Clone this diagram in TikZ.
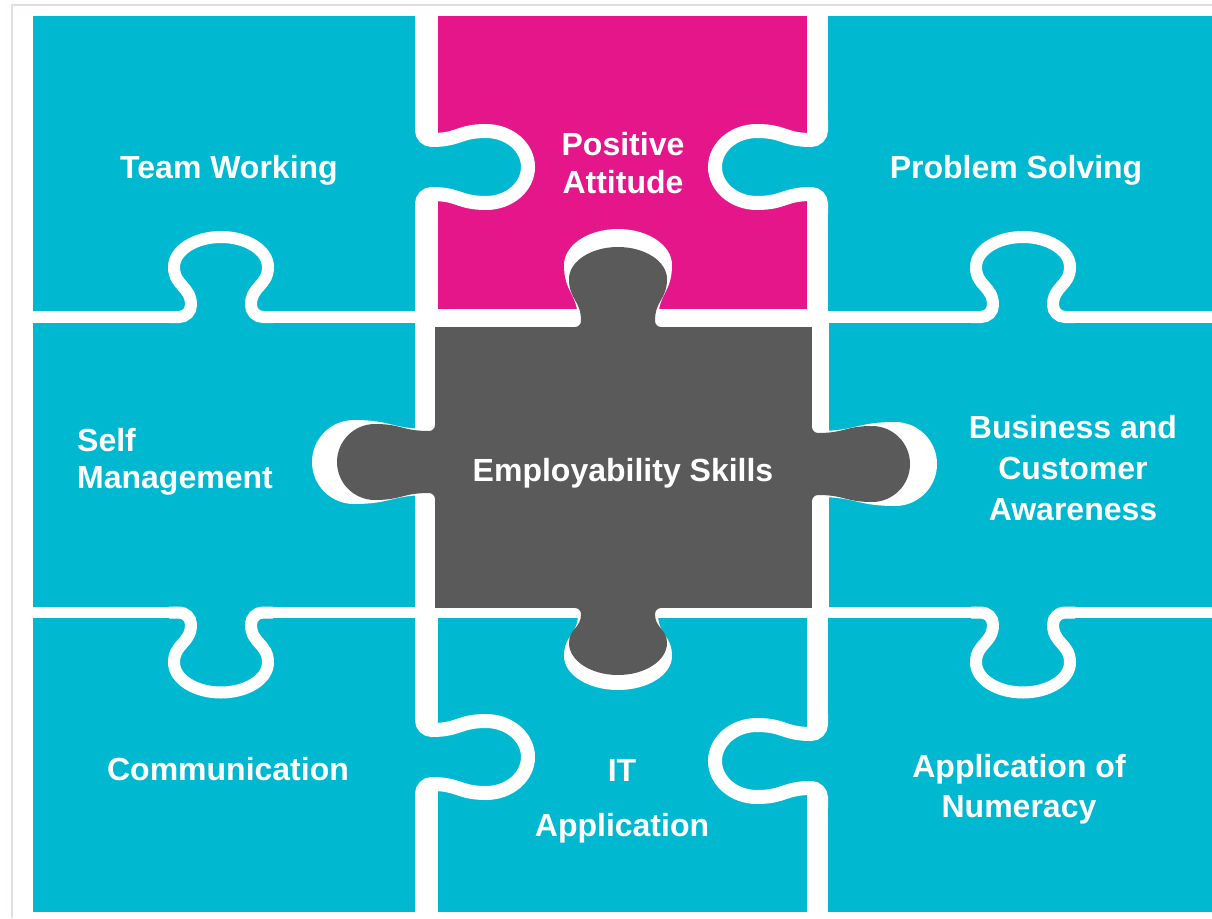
\documentclass[tikz,border=0pt]{standalone}
\usepackage{fontspec}
\newfontfamily\labfont{Liberation Sans}
\definecolor{pcyan}{RGB}{0,185,209}
\definecolor{ppink}{RGB}{228,22,138}
\definecolor{pgray}{RGB}{90,90,90}
\definecolor{pframe}{RGB}{228,220,224}
\def\setknob#1#2#3#4#5{\def\kra{#1}\def\kro{#2}\def\kc{#3}\def\kn{#4}\def\kf{#5}}
\def\kw{12}
\tikzset{
  knobp/.style={insert path={
    .. controls ({-\kn-0.45*\kf},0) and ({-\kn},{0.45*\kf}) .. ({-\kn},{\kf})
    .. controls ({-\kn},{\kf+0.5*(\kc-\kf)}) and ({-\kra},{\kc-0.5*(\kc-\kf)}) .. ({-\kra},{\kc})
    .. controls ({-\kra},{\kc+0.552*\kro}) and ({-0.552*\kra},{\kc+\kro}) .. (0,{\kc+\kro})
    .. controls ({0.552*\kra},{\kc+\kro}) and ({\kra},{\kc+0.552*\kro}) .. ({\kra},{\kc})
    .. controls ({\kra},{\kc-0.5*(\kc-\kf)}) and ({\kn},{\kf+0.5*(\kc-\kf)}) .. ({\kn},{\kf})
    .. controls ({\kn},{0.45*\kf}) and ({\kn+0.45*\kf},0) .. ({\kn+\kf},0)
  }},
  lbl/.style={anchor=base, text=white, align=center, inner sep=0pt,
    font=\labfont\bfseries\fontsize{32}{38}\selectfont},
  outline/.style={white, line width=\kw pt}
}
% regular tab: base point, rotation, colour
\newcommand{\regtab}[4]{%
  \begin{scope}[shift={(#1,#2)}, rotate=#3]
    \fill[#4] ({-\kn-\kf},0) [knobp] -- cycle;
    \fill[#4] ({-\kn-\kf},-13) -- ({\kn+\kf},-13) -- ({\kn+\kf},1) -- ({-\kn-\kf},1) -- cycle;
    \draw[outline] ({-\kn-\kf-10},0) -- ({-\kn-\kf},0) [knobp] -- ({\kn+\kf+10},0);
  \end{scope}}
% plain filled knob (for the grey piece and its holes)
\newcommand{\graytab}[4]{%
  \begin{scope}[shift={(#1,#2)}, rotate=#3]
    \fill[#4] ({-\kn-\kf},0) [knobp] -- ({\kn+\kf},-2) -- ({-\kn-\kf},-2) -- cycle;
  \end{scope}}
\begin{document}
\begin{tikzpicture}[x=1pt,y=-1pt]
\useasboundingbox (0,0) rectangle (1212,918);
\fill[white] (0,0) rectangle (1212,918);
\draw[pframe, line width=1.5pt] (12,918) -- (12,5) -- (1212,5);
% cells
\fill[pcyan] (33,16) rectangle (415,311);
\fill[ppink] (438,16) rectangle (807,309);
\fill[pcyan] (828,16) rectangle (1212,311);
\fill[pcyan] (33,323) rectangle (415,607);
\fill[pcyan] (829,323) rectangle (1212,607);
\fill[pcyan] (33,618) rectangle (415,912);
\fill[pcyan] (438,618) rectangle (807,912);
\fill[pcyan] (828,618) rectangle (1212,912);
% horizontal tabs
\def\kw{14}
\setknob{36}{42}{64}{27}{10}
\regtab{422}{167}{90}{pcyan}
\regtab{821}{167}{-90}{pcyan}
\regtab{422}{757}{90}{pcyan}
\regtab{821}{761}{-90}{pcyan}
% vertical tabs
\def\kw{12}
\setknob{47}{30}{50}{30}{12}
\regtab{221}{317}{180}{pcyan}
\regtab{1023}{317}{180}{pcyan}
\regtab{221}{612.5}{0}{pcyan}
\regtab{1023}{612.5}{0}{pcyan}
% grey piece holes
\setknob{42}{42}{81}{33}{6}
\graytab{435}{462}{-90}{white}
\setknob{42}{42}{83}{33}{6}
\graytab{812}{464}{90}{white}
\setknob{54}{36}{62}{40}{6}
\graytab{618}{327}{180}{white}
\setknob{54}{34}{48}{40}{6}
\graytab{618}{608}{0}{white}
% grey piece
\fill[pgray] (435,327) rectangle (812,608);
\setknob{38}{38}{60}{31}{6}
\graytab{435}{462}{-90}{pgray}
\graytab{812}{464}{90}{pgray}
\setknob{49}{32}{48}{37}{6}
\graytab{618}{327}{180}{pgray}
\setknob{49}{32}{35}{37}{6}
\graytab{618}{608}{0}{pgray}
% labels (anchor = baseline of the last line)
\node[lbl] (tw) at (229,178) {Team Working};
\node[lbl] (pa) at (623,193) {Positive\\Attitude};
\node[lbl] (ps) at (1016,178) {Problem Solving};
\node[lbl, anchor=base west, align=left] (sm) at (77,488) {Self\\[-1pt]Management};
\node[lbl] (es) at (623,481) {Employability Skills};
\node[lbl] (bc) at (1073,520) {Business and\\[3pt]Customer\\[3pt]Awareness};
\node[lbl] (co) at (228,780) {Communication};
\node[lbl] (it) at (622,836) {IT\\[17pt]Application};
\node[lbl] (an) at (1019,817) {Application of\\[2pt]Numeracy};
\end{tikzpicture}
\end{document}
